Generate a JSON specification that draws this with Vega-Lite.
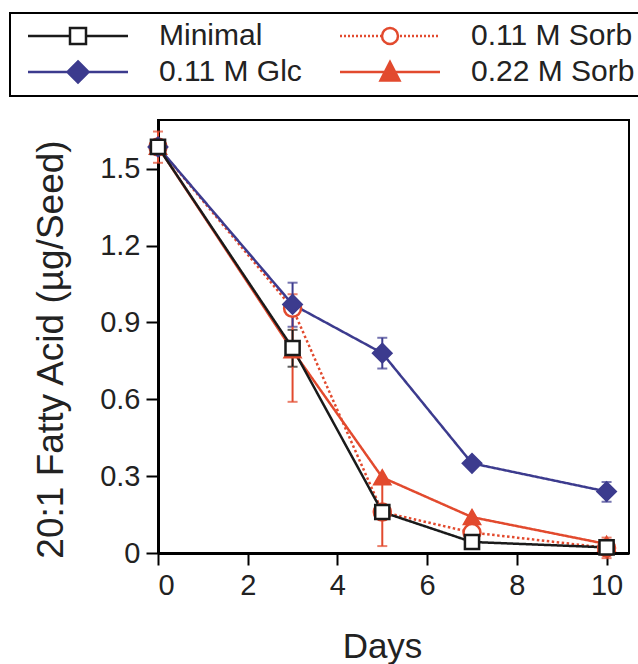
{
  "$schema": "https://vega.github.io/schema/vega-lite/v6.json",
  "width": 471,
  "height": 433,
  "autosize": {"type": "none"},
  "padding": {"left": 158, "top": 120, "right": 9, "bottom": 111},
  "background": "white",
  "config": {
    "font": "Liberation Sans",
    "view": {"stroke": "black", "strokeWidth": 2},
    "axis": {
      "domainColor": "black", "domainWidth": 3, "tickColor": "black", "tickWidth": 2, "tickSize": 12,
      "labelFont": "Liberation Sans", "labelFontSize": 29, "labelColor": "#222", "titleFont": "Liberation Sans",
      "titleFontSize": 35, "titleFontWeight": "normal", "titleColor": "#222", "grid": false
    }
  },
  "datasets": {
    "means": [
      {"series": "0.22 M Sorb", "day": 0, "v": 1.585},
      {"series": "0.22 M Sorb", "day": 3, "v": 0.79},
      {"series": "0.22 M Sorb", "day": 5, "v": 0.295},
      {"series": "0.22 M Sorb", "day": 7, "v": 0.14},
      {"series": "0.22 M Sorb", "day": 10, "v": 0.035},
      {"series": "0.11 M Sorb", "day": 0, "v": 1.585},
      {"series": "0.11 M Sorb", "day": 3, "v": 0.955},
      {"series": "0.11 M Sorb", "day": 5, "v": 0.16},
      {"series": "0.11 M Sorb", "day": 7, "v": 0.08},
      {"series": "0.11 M Sorb", "day": 10, "v": 0.02},
      {"series": "0.11 M Glc", "day": 0, "v": 1.585},
      {"series": "0.11 M Glc", "day": 3, "v": 0.97},
      {"series": "0.11 M Glc", "day": 5, "v": 0.78},
      {"series": "0.11 M Glc", "day": 7, "v": 0.35},
      {"series": "0.11 M Glc", "day": 10, "v": 0.24},
      {"series": "Minimal", "day": 0, "v": 1.585},
      {"series": "Minimal", "day": 3, "v": 0.8},
      {"series": "Minimal", "day": 5, "v": 0.16},
      {"series": "Minimal", "day": 7, "v": 0.043},
      {"series": "Minimal", "day": 10, "v": 0.022}
    ],
    "errs": [
      {"series": "0.22 M Sorb", "day": 0, "lo": 1.523, "hi": 1.645},
      {"series": "0.22 M Sorb", "day": 3, "lo": 0.59, "hi": 1.01},
      {"series": "0.11 M Sorb", "day": 5, "lo": 0.027, "hi": 0.27},
      {"series": "0.11 M Sorb", "day": 10, "lo": -0.02, "hi": 0.06},
      {"series": "0.11 M Glc", "day": 3, "lo": 0.883, "hi": 1.055},
      {"series": "0.11 M Glc", "day": 5, "lo": 0.72, "hi": 0.84},
      {"series": "0.11 M Glc", "day": 10, "lo": 0.2, "hi": 0.277},
      {"series": "Minimal", "day": 3, "lo": 0.727, "hi": 0.871}
    ]
  },
  "encoding": {
    "x": {"field": "day", "type": "quantitative", "scale": {"domain": [0, 10.5], "nice": false},
      "axis": {"values": [0, 2, 4, 6, 8, 10], "title": "Days", "labelPadding": 6,
        "titleX": 224, "titleY": 104, "titleBaseline": "alphabetic", "titleAlign": "center"}}
  },
  "layer": [
    {
      "data": {"name": "errs"},
      "mark": {"type": "errorbar", "ticks": {"size": 10, "thickness": 2}, "rule": {"strokeWidth": 2}},
      "encoding": {
        "y": {"field": "lo", "type": "quantitative", "title": "20:1 Fatty Acid (µg/Seed)", "scale": {"domain": [0, 1.69], "nice": false, "zero": false}},
        "y2": {"field": "hi"},
        "color": {"field": "series", "type": "nominal", "legend": null,
          "scale": {"range": ["#3c3b8e", "#e24a2e", "#e24a2e", "#1a1a1a"]}}
      }
    },
    {
      "data": {"name": "means"},
      "mark": {"type": "line", "strokeWidth": 2.5},
      "encoding": {
        "y": {"field": "v", "type": "quantitative", "title": "20:1 Fatty Acid (µg/Seed)",
          "axis": {"values": [0, 0.3, 0.6, 0.9, 1.2, 1.5], "format": ".1~f", "labelPadding": 6, "titleFontSize": 37,
            "titleX": -96, "titleY": 229, "titleBaseline": "alphabetic", "titleAlign": "center"}},
        "stroke": {"field": "series", "type": "nominal",
          "scale": {"domain": ["Minimal", "0.11 M Glc", "0.11 M Sorb", "0.22 M Sorb"], "range": ["#1a1a1a", "#3c3b8e", "#e24a2e", "#e24a2e"]},
          "legend": {
            "title": null, "orient": "none", "legendX": -148, "legendY": -107, "columns": 2,
            "columnPadding": 28, "rowPadding": 5, "padding": 8, "strokeColor": "black",
            "symbolSize": 400, "symbolOffset": 45, "labelOffset": 66, "labelFontSize": 30, "labelFont": "Liberation Sans",
            "labelColor": "#222", "labelLimit": 400,
            "encode": {
              "legend": {"update": {"strokeWidth": {"value": 2}}},
              "symbols": {"update": {
                "shape": {"signal": "datum.value === 'Minimal' ? 'M-5,0H-0.8M0.8,0H5M-0.8,-0.8H0.8V0.8H-0.8Z' : datum.value === '0.11 M Glc' ? 'M-5,0H5M0,-1.05L1.05,0L0,1.05L-1.05,0Z' : datum.value === '0.22 M Sorb' ? 'M-5,0H5M0,-1.0L0.95,0.85L-0.95,0.85Z' : 'M0.8,0A0.8,0.8,0,1,1,-0.8,0A0.8,0.8,0,1,1,0.8,0ZM-5,0h0.2M-4.6,0h0.2M-4.2,0h0.2M-3.8,0h0.2M-3.4,0h0.2M-3,0h0.2M-2.6,0h0.2M-2.2,0h0.2M-1.8,0h0.2M-1.4,0h0.2M-1.0,0h0.2M1.0,0h0.2M1.4,0h0.2M1.8,0h0.2M2.2,0h0.2M2.6,0h0.2M3,0h0.2M3.4,0h0.2M3.8,0h0.2M4.2,0h0.2M4.6,0h0.2'"},
                "fill": {"signal": "datum.value === 'Minimal' || datum.value === '0.11 M Sorb' ? 'white' : (datum.value === '0.11 M Glc' ? '#3c3b8e' : '#e24a2e')"},
                "strokeWidth": {"value": 2.5},
                "strokeDash": {"value": []},
                "fillOpacity": {"value": 1}
              }}
            }
          }},
        "strokeDash": {"field": "series", "type": "nominal", "legend": null,
          "scale": {"range": [[1, 0], [2.5, 2.5], [1, 0], [1, 0]]}}
      }
    },
    {
      "data": {"name": "means"},
      "mark": {"type": "point", "strokeWidth": 2.5, "opacity": 1, "fillOpacity": 1},
      "encoding": {
        "y": {"field": "v", "type": "quantitative"},
        "stroke": {"field": "series", "type": "nominal"},
        "fill": {"field": "series", "type": "nominal", "legend": null,
          "scale": {"range": ["#3c3b8e", "white", "#e24a2e", "white"]}},
        "shape": {"field": "series", "type": "nominal", "legend": null,
          "scale": {"range": ["diamond", "circle", "triangle-up", "square"]}},
        "size": {"field": "series", "type": "nominal", "legend": null,
          "scale": {"range": [330, 200, 300, 240]}}
      }
    }
  ]
}
